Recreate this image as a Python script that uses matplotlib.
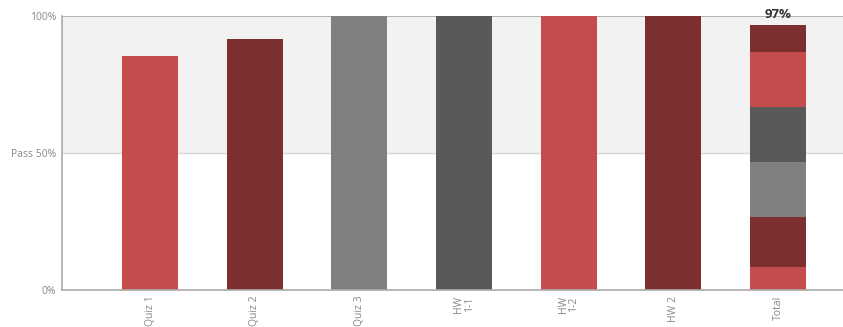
import matplotlib
matplotlib.use("Agg")
import matplotlib.pyplot as plt

categories = ["Quiz 1", "Quiz 2", "Quiz 3", "HW\n1-1", "HW\n1-2", "HW 2"]
scores = [85.4, 91.6, 100, 100, 100, 100]
total_segments = [8.5, 18.3, 20, 20, 20, 10]
total_label = "97%"
total_name = "Total"
colors = ["#c44c4c", "#7b2f2f", "#808080", "#595959", "#c44c4c", "#7b2f2f"]

plt.rcParams['font.family'] = ['Open Sans', 'DejaVu Sans']

fig = plt.figure(figsize=(8.43, 3.27), dpi=100)
ax = fig.add_axes([61.5/843, 37/327, 1 - 61.5/843, 274/327])

ax.axhspan(50, 100, color="#f2f2f2", zorder=0, lw=0)
ax.axhline(50, color="#d8d8d8", lw=1, zorder=1)
ax.axhline(100, color="#aaaaaa", lw=1.2, zorder=1)

w = 0.535
xs = list(range(len(categories)))
ax.bar(xs, scores, width=w, color=colors, zorder=2)

tx = len(categories)
bottom = 0
for v, c in zip(total_segments, colors):
    ax.bar(tx, v, bottom=bottom, width=w, color=c, zorder=2)
    bottom += v
ax.text(tx, bottom + 1.2, total_label, ha="center", va="bottom", fontsize=9.5,
        fontweight="bold", color="#333333", zorder=3)

ax.set_xlim(-0.846, 6.62)
ax.set_ylim(0, 100)
ax.set_xticks(xs + [tx])
ax.set_xticklabels(categories + [total_name], rotation=90, fontsize=7.5,
                   color="#888888", va="top", linespacing=0.9)
ax.set_yticks([0, 50, 100])
ax.set_yticklabels(["0%", "Pass 50%", "100%"], fontsize=7.5, color="#888888")
ax.tick_params(axis="both", length=0, pad=4)
for s in ["top", "right"]:
    ax.spines[s].set_visible(False)
for s in ["left", "bottom"]:
    ax.spines[s].set_color("#aaaaaa")
    ax.spines[s].set_linewidth(1.2)

fig.savefig("out.png", dpi=100)
